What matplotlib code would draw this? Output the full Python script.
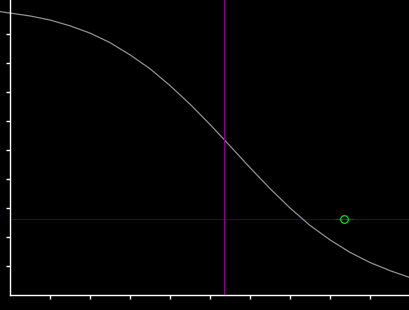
import matplotlib
matplotlib.use("Agg")
import matplotlib.pyplot as plt

# --- Data (axis units: one tick step per unit) ---
curve_x = [-0.25, 0, 0.5, 1, 1.5, 2, 2.5, 3, 3.5, 4, 4.5, 5,
           5.5, 6, 6.5, 7, 7.5, 8, 8.5, 9, 9.5, 10]
curve_y = [9.77, 9.72, 9.62, 9.48, 9.28, 9.03, 8.70, 8.28, 7.80, 7.22, 6.58, 5.88,
           5.14, 4.39, 3.67, 3.00, 2.40, 1.90, 1.47, 1.12, 0.84, 0.60]
x_ticks = [1, 2, 3, 4, 5, 6, 7, 8, 9]
y_ticks = [1, 2, 3, 4, 5, 6, 7, 8, 9]
vline_x = 5.35
hline_y = 2.62
marker_x = 8.36
marker_y = 2.62
marker_err = [8.125, 8.575]

fig = plt.figure(figsize=(4.1, 3.1), dpi=100, facecolor="black")
ax = fig.add_axes([0, 0, 1, 1], facecolor="black")
ax.set_xlim(-0.25, 10)
ax.set_ylim(-0.517, 10.17)

# lines
ax.plot(curve_x, curve_y, color="#909090", lw=0.9, zorder=2)
ax.plot([0, 10], [hline_y, hline_y], color="#0000d0", lw=0.5,
        antialiased=False, zorder=1)
ax.plot(marker_err, [marker_y, marker_y], color="#c00000", lw=0.5,
        antialiased=False, zorder=3)
ax.plot([vline_x, vline_x], [0, 10.17], color="#8b008b", lw=0.5,
        antialiased=False, zorder=3)
ax.plot([marker_x], [marker_y], marker="o", ms=5.5, mfc="none", mec="#00ff00",
        mew=0.8, zorder=4)

# axes styling
for s in ["top", "right"]:
    ax.spines[s].set_visible(False)
ax.spines["left"].set_position(("data", 0))
ax.spines["bottom"].set_position(("data", 0))
ax.spines["left"].set_bounds(0, 10.17)
ax.spines["bottom"].set_bounds(0, 10)
for s in ["left", "bottom"]:
    ax.spines[s].set_color("white")
    ax.spines[s].set_linewidth(1.0)
    ax.spines[s].set_zorder(5)

ax.set_xticks(x_ticks)
ax.set_yticks(y_ticks)
ax.set_xticklabels([])
ax.set_yticklabels([])
ax.tick_params(direction="out", length=3, width=1.0, color="white")

fig.savefig("out.png", dpi=100, facecolor="black")
plt.close(fig)
